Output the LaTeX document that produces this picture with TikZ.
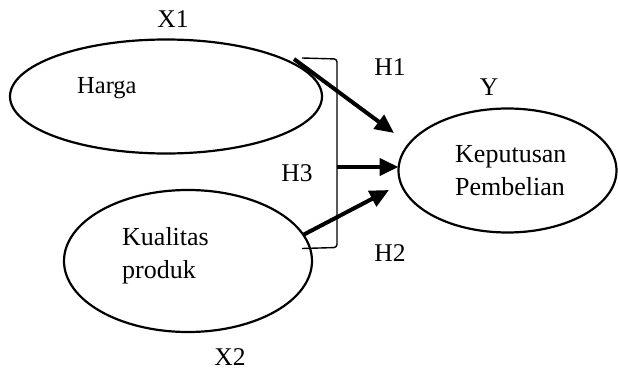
\documentclass[tikz,border=0pt]{standalone}
\usepackage{fontspec}
\setmainfont{Liberation Serif}
\usetikzlibrary{shapes.geometric,arrows.meta}
\begin{document}
\begin{tikzpicture}[x=1pt,y=-1pt,
  oval/.style={draw,ellipse,line width=2.2pt,inner sep=0pt,outer sep=0pt},
  lbl/.style={inner sep=0pt,font=\fontsize{25.5}{32}\selectfont},
  txt/.style={inner sep=0pt,align=left,font=\fontsize{26}{33}\selectfont},
  thickarrow/.style={line width=4pt,-{Triangle[length=19pt,width=17pt]}},
  bracketline/.style={line width=1.4pt}]
\useasboundingbox (0,0) rectangle (618,385);
% ellipses
\node[oval,minimum width=312pt,minimum height=114pt] (harga) at (166,96.5) {};
\node[oval,minimum width=248pt,minimum height=142pt] (kual) at (188,261) {};
\node[oval,minimum width=218pt,minimum height=124pt] (kep) at (507.5,170.5) {};
% texts
\node[txt,anchor=west,font=\fontsize{24.5}{30}\selectfont] (thg) at (77,88) {Harga};
\node[txt,anchor=west] (tkual) at (122,256) {Kualitas\\produk};
\node[txt,anchor=west] (tkep) at (455,171) {Keputusan\\Pembelian};
% labels
\node[lbl] (x1) at (173,19) {X1};
\node[lbl] (x2) at (230,357) {X2};
\node[lbl] (y) at (489,87) {Y};
\node[lbl] (h1) at (390,67) {H1};
\node[lbl] (h2) at (390,253) {H2};
\node[lbl] (h3) at (297,173) {H3};
% bracket
\coordinate (bt) at (302,58);
\coordinate (bb) at (302,248.5);
\coordinate (bm) at (337,167);
\draw[bracketline,rounded corners=3pt] (bt) -- (337,59) -- (337,247.5) -- (bb);
% arrows
\coordinate (s1) at (294,59);
\coordinate (e1) at (394,133);
\coordinate (s2) at (303,235);
\coordinate (e2) at (389,190);
\draw[thickarrow] (s1) -- (e1);
\draw[thickarrow] (bm) -- (bm -| kep.west);
\draw[thickarrow] (s2) -- (e2);
\end{tikzpicture}
\end{document}
